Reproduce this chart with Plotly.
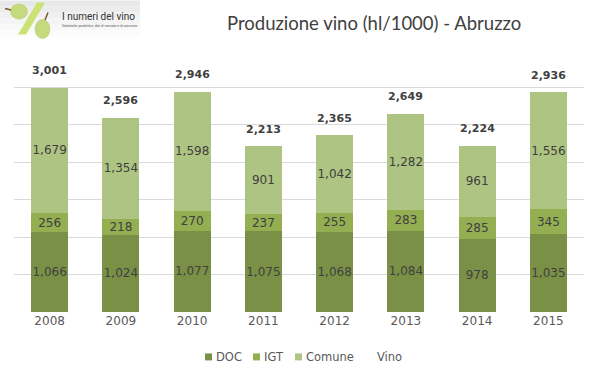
import plotly.graph_objects as go

years = ["2008", "2009", "2010", "2011", "2012", "2013", "2014", "2015"]
doc = [1066, 1024, 1077, 1075, 1068, 1084, 978, 1035]
igt = [256, 218, 270, 237, 255, 283, 285, 345]
comune = [1679, 1354, 1598, 901, 1042, 1282, 961, 1556]
vino = [3001, 2596, 2946, 2213, 2365, 2649, 2224, 2936]
legend_names = ["DOC", "IGT", "Comune", "Vino"]

C_DOC = "#7A9046"
C_IGT = "#94AE52"
C_COM = "#AEC482"
TXT = "#404040"

# body margin is removed by post_script, so figure origin = screen (0, 0)
W, H = 599, 378
PX0, PX1 = 14, 584
PY0, PY1 = 49.5, 312
ML = PX0
MT = PY0
MR = W - PX1
MB = H - PY1
PW = PX1 - PX0
PH = PY1 - PY0
YMIN, YMAX = -4, 3504


def px(x, y):
    """screen pixel -> paper coordinates"""
    return (x - PX0) / PW, (PY1 - y) / PH


def fmt(v):
    return f"{v:,}"


fig = go.Figure()
for name, vals, col in [("DOC", doc, C_DOC), ("IGT", igt, C_IGT), ("Comune", comune, C_COM)]:
    fig.add_trace(go.Bar(
        x=years, y=vals, name=name, marker=dict(color=col, line=dict(width=0)),
        text=[fmt(v) for v in vals], textposition="inside", insidetextanchor="middle",
        textangle=0, textfont=dict(family="DejaVu Sans", size=12, color=TXT),
        constraintext="none", hoverinfo="skip", showlegend=False,
    ))

fig.add_trace(go.Scatter(
    x=years, y=vino, name="Vino", mode="lines",
    line=dict(color="rgba(0,0,0,0)", width=0), hoverinfo="skip", showlegend=False,
))

for i, v in enumerate(vino):
    fig.add_annotation(x=i, y=v, text=f"<b>{fmt(v)}</b>", showarrow=False,
                       yanchor="middle", yshift=17,
                       font=dict(family="DejaVu Sans", size=11, color=TXT))

shapes = []
# logo background
bands = ["#E8E8E8", "#ECECEC", "#F0F0F0", "#F4F4F4", "#F8F8F8", "#FCFCFC"]
for i, c in enumerate(bands):
    x0, y0 = px(0, i * 6)
    x1, y1 = px(140, i * 6 + 6)
    shapes.append(dict(type="rect", xref="paper", yref="paper", x0=x0, y0=y0, x1=x1, y1=y1,
                       fillcolor=c, line=dict(width=0), layer="below"))
# slash
pts = [px(18, 34), px(26, 34), px(45, 2), px(37, 2)]
path = "M " + " L ".join(f"{a},{b}" for a, b in pts) + " Z"
shapes.append(dict(type="path", xref="paper", yref="paper", path=path,
                   fillcolor="#CBE274", line=dict(width=0)))
# grapes
for cx, cy, rx, ry in [(19, 11, 8.5, 7.5), (42.5, 28.5, 7.5, 9.5)]:
    x0, y0 = px(cx - rx, cy + ry)
    x1, y1 = px(cx + rx, cy - ry)
    shapes.append(dict(type="circle", xref="paper", yref="paper", x0=x0, y0=y0, x1=x1, y1=y1,
                       fillcolor="#C4DA7C", line=dict(color="#AFC866", width=0.5)))
# stems
for (ax, ay), (bx, by) in [((11, 9.5), (5, 8)), ((45, 19.5), (48, 12))]:
    a = px(ax, ay)
    b = px(bx, by)
    shapes.append(dict(type="line", xref="paper", yref="paper", x0=a[0], y0=a[1], x1=b[0], y1=b[1],
                       line=dict(color="#7A5A30", width=1.5)))

# manual legend
leg_marker_x = [205, 253, 295, None]
leg_text_x = [214, 262, 304, 375]
leg_cols = [C_DOC, C_IGT, C_COM, None]
LY = 357
for name, mx, tx_, col in zip(legend_names, leg_marker_x, leg_text_x, leg_cols):
    if mx is not None:
        x0, y0 = px(mx, LY + 3.5)
        x1, y1 = px(mx + 7, LY - 3.5)
        shapes.append(dict(type="rect", xref="paper", yref="paper", x0=x0, y0=y0, x1=x1, y1=y1,
                           fillcolor=col, line=dict(width=0)))
    ax_, ay_ = px(tx_, LY)
    fig.add_annotation(xref="paper", yref="paper", x=ax_, y=ay_, xanchor="left", yanchor="middle",
                       text=name, showarrow=False,
                       font=dict(family="DejaVu Sans", size=11.5, color="#595959"))

fig.update_layout(shapes=shapes)

lx, ly = px(60, 15.5)
fig.add_annotation(xref="paper", yref="paper", x=lx, y=ly, xanchor="left", yanchor="middle",
                   text="I numeri del vino", showarrow=False,
                   font=dict(family="Roboto", size=10, color="#333333"))
sx, sy = px(60, 25)
fig.add_annotation(xref="paper", yref="paper", x=sx, y=sy, xanchor="left", yanchor="middle",
                   text="Statistiche produttive, dati di mercato e di consumo.", showarrow=False,
                   font=dict(family="Roboto", size=3.3, color="#555555"))
tx, ty = px(374, 22)
fig.add_annotation(xref="paper", yref="paper", x=tx, y=ty, xanchor="center", yanchor="middle",
                   text="Produzione vino (hl/1000) - Abruzzo", showarrow=False,
                   font=dict(family="Lato", size=18.5, color="#404040"))

fig.update_layout(
    width=W, height=H,
    margin=dict(l=ML, r=MR, t=MT, b=MB, pad=0, autoexpand=False),
    paper_bgcolor="white", plot_bgcolor="white",
    barmode="stack", bargap=0.48,
    showlegend=False,
    hovermode=False,
    xaxis=dict(type="category", range=[-0.5, 7.5], showgrid=False, showline=False, ticks="",
               tickfont=dict(family="DejaVu Sans", size=12, color="#595959")),
    yaxis=dict(range=[YMIN, YMAX], dtick=500, tick0=0, showgrid=True, gridcolor="#D9D9D9",
               gridwidth=1, zeroline=False, showticklabels=False, showline=False, ticks=""),
    uniformtext=dict(mode=False),
)

fig.write_html(
    "out.html",
    config={"displayModeBar": False},
    post_script="document.body.style.margin='0';document.body.style.overflow='hidden';",
)
